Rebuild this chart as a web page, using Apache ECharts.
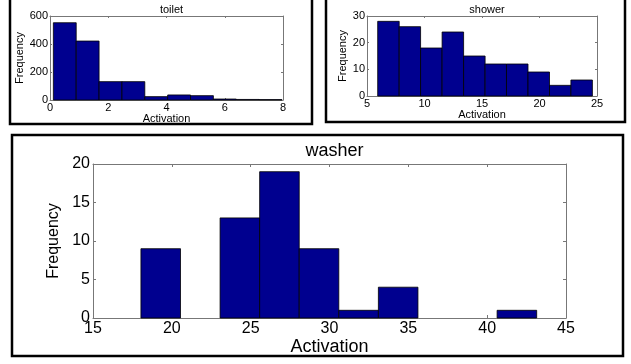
<!DOCTYPE html>
<html>
<head>
<meta charset="utf-8">
<script src="https://cdn.jsdelivr.net/npm/echarts@6/dist/echarts.min.js"></script>
<style>
    html, body {margin: 0; padding: 0; background: #fff;}
    #chart {width: 631px; height: 364px;}
</style>
</head>
<body>
<div id="chart"></div>
<script>
// histogram bin edges and counts
const toiletEdges = [0.115, 0.90, 1.685, 2.47, 3.255, 4.04, 4.825, 5.61, 6.395, 7.18, 7.965];
const toiletCounts = [552, 421, 131, 131, 24, 36, 31, 7, 4, 3];

const showerEdges = [5.93, 7.80, 9.66, 11.53, 13.40, 15.27, 17.13, 19.00, 20.87, 22.73, 24.60];
const showerCounts = [28, 26, 18, 24, 15, 12, 12, 9, 4, 6];

const washerEdges = [18.04, 20.55, 23.06, 25.57, 28.08, 30.59, 33.10, 35.61, 38.12, 40.63, 43.14];
const washerCounts = [9, 0, 13, 19, 9, 1, 4, 0, 0, 1];

const panelTitles = ['toilet', 'shower', 'washer'];

const FONT = 'Liberation Sans, Arial, sans-serif';
const BAR_COLOR = '#00008f';
const AXIS_COLOR = '#777';

function binData(edges, counts) {
    return counts.map((c, i) => [edges[i], edges[i + 1], c]);
}

function renderBin(params, api) {
    const count = api.value(2);
    if (!count) {
        return null;
    }
    const topLeft = api.coord([api.value(0), count]);
    const bottomRight = api.coord([api.value(1), 0]);
    return {
        type: 'rect',
        shape: {
            x: topLeft[0],
            y: topLeft[1],
            width: bottomRight[0] - topLeft[0],
            height: bottomRight[1] - topLeft[1]
        },
        style: {fill: BAR_COLOR, stroke: '#000', lineWidth: 0.8}
    };
}

// one panel = grid + bottom/top x axes + left/right y axes
const grids = [
    {left: 50, top: 16, width: 233, height: 84},
    {left: 367, top: 16, width: 230, height: 80},
    {left: 93, top: 164, width: 473, height: 154}
];

const panels = [
    {xMin: 0, xMax: 8, xStep: 2, yMin: 0, yMax: 600, yStep: 200, font: 11, xNameFont: 11, yNameFont: 11,
        titleFont: 11, titleTop: -1, tick: 2, xGap: 12, yGap: 22, labelMargin: 2,
        data: binData(toiletEdges, toiletCounts)},
    {xMin: 5, xMax: 25, xStep: 5, yMin: 0, yMax: 30, yStep: 10, font: 11, xNameFont: 11, yNameFont: 11,
        titleFont: 11, titleTop: -1, tick: 2, xGap: 11, yGap: 17, labelMargin: 2,
        data: binData(showerEdges, showerCounts)},
    {xMin: 15, xMax: 45, xStep: 5, yMin: 0, yMax: 20, yStep: 5, font: 16, xNameFont: 18, yNameFont: 16,
        titleFont: 18, titleTop: 137, tick: 3, xGap: 14, yGap: 26, labelMargin: 3,
        data: binData(washerEdges, washerCounts)}
];

const xAxes = [];
const yAxes = [];
const series = [];
const titles = [];

panels.forEach((p, i) => {
    const labelStyle = {color: '#000', fontFamily: FONT, fontSize: p.font, margin: p.labelMargin};
    const common = {
        gridIndex: i,
        type: 'value',
        splitLine: {show: false},
        axisLine: {show: true, onZero: false, lineStyle: {color: AXIS_COLOR, width: 1}},
        axisTick: {show: true, inside: true, length: p.tick, lineStyle: {color: AXIS_COLOR}}
    };
    xAxes.push(Object.assign({}, common, {
        position: 'bottom',
        min: p.xMin, max: p.xMax, interval: p.xStep,
        axisLabel: labelStyle,
        name: 'Activation',
        nameLocation: 'middle',
        nameGap: p.xGap,
        nameTextStyle: {color: '#000', fontFamily: FONT, fontSize: p.xNameFont}
    }));
    xAxes.push(Object.assign({}, common, {
        position: 'top',
        min: p.xMin, max: p.xMax, interval: p.xStep,
        axisLabel: {show: false}
    }));
    yAxes.push(Object.assign({}, common, {
        position: 'left',
        min: p.yMin, max: p.yMax, interval: p.yStep,
        axisLabel: labelStyle,
        name: 'Frequency',
        nameLocation: 'middle',
        nameGap: p.yGap,
        nameTextStyle: {color: '#000', fontFamily: FONT, fontSize: p.yNameFont}
    }));
    yAxes.push(Object.assign({}, common, {
        position: 'right',
        min: p.yMin, max: p.yMax, interval: p.yStep,
        axisLabel: {show: false}
    }));
    series.push({
        type: 'custom',
        xAxisIndex: i * 2,
        yAxisIndex: i * 2,
        renderItem: renderBin,
        encode: {x: [0, 1], y: 2},
        data: p.data,
        silent: true
    });
    const g = grids[i];
    titles.push({
        text: panelTitles[i],
        left: g.left + g.width / 2,
        top: p.titleTop,
        textAlign: 'center',
        textStyle: {color: '#000', fontFamily: FONT, fontWeight: 'normal', fontSize: p.titleFont}
    });
});

const chart = echarts.init(document.getElementById('chart'), null, {renderer: 'canvas'});
chart.setOption({
    animation: false,
    backgroundColor: '#fff',
    title: titles,
    grid: grids,
    xAxis: xAxes,
    yAxis: yAxes,
    series: series,
    graphic: [
        // black frames around each subplot
        {type: 'rect', shape: {x: 10, y: -5, width: 302, height: 129}, style: {fill: null, stroke: '#000', lineWidth: 2.5}},
        {type: 'rect', shape: {x: 326, y: -5, width: 299, height: 127}, style: {fill: null, stroke: '#000', lineWidth: 2.5}},
        {type: 'rect', shape: {x: 12, y: 135, width: 611, height: 221}, style: {fill: null, stroke: '#000', lineWidth: 2.5}}
    ]
});
</script>
</body>
</html>
